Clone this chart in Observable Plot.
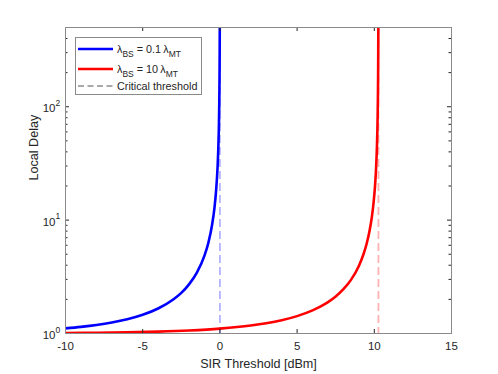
<!DOCTYPE html>
<html><head><meta charset="utf-8">
<script src="https://cdn.jsdelivr.net/npm/d3@7"></script>
<script src="https://cdn.jsdelivr.net/npm/@observablehq/plot@0.6"></script>
<style>
body{margin:0;background:#fff;}
#wrap{position:relative;width:498px;height:374px;}
</style></head><body><div id="wrap"></div>
<script>
// Blue: lambda_BS = 0.1 lambda_MT
const blueX = [-10, -9, -8, -7, -6, -5, -4, -3, -2.5, -2, -1.5, -1, -0.75, -0.5, -0.35, -0.25, -0.15, -0.1, -0.06, -0.04, -0.025, -0.015, -0.009, -0.0072];
const blueY = [1.11, 1.144, 1.188, 1.249, 1.335, 1.462, 1.662, 2.005, 2.28, 2.71, 3.42, 4.86, 6.29, 9.2, 12.9, 17.9, 29.4, 43.9, 72.9, 109, 174, 290, 483, 603];
// Red: lambda_BS = 10 lambda_MT
const redX = [-10, -8, -6, -4, -2, 0, 2, 3, 4, 5, 6, 6.5, 7, 7.5, 8, 8.5, 9, 9.3, 9.5, 9.7, 9.85, 9.95, 10.05, 10.12, 10.17, 10.2, 10.22, 10.235, 10.245, 10.255, 10.26, 10.264];
const redY = [1.0095, 1.0151, 1.0242, 1.0389, 1.063, 1.1037, 1.1751, 1.2308, 1.309, 1.4229, 1.5977, 1.7236, 1.8904, 2.1209, 2.457, 2.9877, 3.9448, 4.9975, 6.158, 8.137, 10.86, 14.1, 20.28, 29.5, 44.1, 62.6, 87.9, 125.8, 178, 300, 452, 758];
const criticalBlue = [0];
const criticalRed = [10.27];
const xTicks = [-10, -5, 0, 5, 10, 15];
const yTicks = [1, 10, 100];
const yTickExp = ["0", "1", "2"];
const yMinor = [2, 3, 4, 5, 6, 7, 8, 9, 20, 30, 40, 50, 60, 70, 80, 90, 200, 300, 400];
const xLabel = "SIR Threshold [dBm]";
const yLabel = "Local Delay";
const legendItems = [
  {pre: "λ", sub1: "BS", mid: " = 0.1\u2009λ", sub2: "MT"},
  {pre: "λ", sub1: "BS", mid: " = 10\u2009λ", sub2: "MT"},
  {pre: "Critical threshold"}
];

const W = 498, H = 374, mL = 65, mR = 47, mT = 27, mB = 41;
const iw = W - mL - mR, ih = H - mT - mB;
const txt = "#262626";
const frameColor = "#8a8a8a";
const font = "'Liberation Sans', Arial, Helvetica, sans-serif";

const blue = blueX.map((x, i) => ({x, y: blueY[i]}));
const red = redX.map((x, i) => ({x, y: redY[i]}));

const chart = Plot.plot({
  width: W, height: H,
  marginLeft: mL, marginRight: mR, marginTop: mT, marginBottom: mB,
  style: {fontFamily: font, fontSize: "11.5px", color: txt, background: "white"},
  x: {domain: [-10, 15], axis: null},
  y: {type: "log", domain: [1, 500], axis: null},
  marks: [
    Plot.ruleX(criticalBlue, {x: d => d, stroke: "#b3b3ff", strokeWidth: 1.8, strokeDasharray: "8,4"}),
    Plot.ruleX(criticalRed, {x: d => d, stroke: "#ffb3b3", strokeWidth: 1.8, strokeDasharray: "8,4"}),
    Plot.line(blue, {x: "x", y: "y", stroke: "#0000ff", strokeWidth: 2.6, curve: "monotone-x", clip: true}),
    Plot.line(red, {x: "x", y: "y", stroke: "#ff0000", strokeWidth: 2.6, curve: "monotone-x", clip: true}),
    // ticks (inward)
    Plot.ruleX(xTicks, {x: d => d, insetTop: ih - 4, stroke: txt}),
    Plot.ruleX(xTicks, {x: d => d, insetBottom: ih - 4, stroke: txt}),
    Plot.ruleY(yTicks, {y: d => d, insetRight: iw - 4, stroke: txt}),
    Plot.ruleY(yTicks, {y: d => d, insetLeft: iw - 4, stroke: txt}),
    Plot.ruleY(yMinor, {y: d => d, insetRight: iw - 2.5, stroke: txt}),
    Plot.ruleY(yMinor, {y: d => d, insetLeft: iw - 2.5, stroke: txt}),
    Plot.frame({stroke: frameColor}),
    // tick labels
    Plot.text(xTicks, {x: d => d, frameAnchor: "bottom", dy: 13, text: d => String(d), lineAnchor: "middle", fill: txt}),
    Plot.text(yTicks, {y: d => d, frameAnchor: "left", dx: -10, dy: 2, text: () => "10", textAnchor: "end", lineAnchor: "middle", fill: txt}),
    Plot.text(yTicks, {y: d => d, frameAnchor: "left", dx: -10, dy: -3.5, text: (d, i) => yTickExp[i], textAnchor: "start", lineAnchor: "middle", fontSize: 8.5, fill: txt}),
    // axis labels
    Plot.text([xLabel], {frameAnchor: "bottom", dy: 30, text: d => d, lineAnchor: "middle", fontSize: 12.6, fill: txt}),
    Plot.text([yLabel], {frameAnchor: "left", dx: -32, rotate: -90, text: d => d, lineAnchor: "middle", fontSize: 12.6, fill: txt})
  ]
});

// legend
const svg = d3.select(chart);
const lg = svg.append("g").attr("font-family", font).attr("font-size", 10.8).attr("fill", txt).attr("text-anchor", "start");
lg.append("rect").attr("x", 75.5).attr("y", 37.5).attr("width", 126).attr("height", 57)
  .attr("fill", "white").attr("stroke", frameColor);
const rowsY = [49, 69, 86];
const swatch = [
  {stroke: "#0000ff", w: 2.6, dash: null},
  {stroke: "#ff0000", w: 2.6, dash: null},
  {stroke: "#555", w: 1, dash: "6,3.5"}
];
legendItems.forEach((it, i) => {
  const y = rowsY[i];
  lg.append("line").attr("x1", 78).attr("x2", 113).attr("y1", y).attr("y2", y)
    .attr("stroke", swatch[i].stroke).attr("stroke-width", swatch[i].w)
    .attr("stroke-dasharray", swatch[i].dash);
  const t = lg.append("text").attr("x", 117).attr("y", y + 4).attr("text-anchor", "start");
  t.append("tspan").text(it.pre);
  if (it.sub1) {
    t.append("tspan").attr("font-size", 8.5).attr("dy", 3.5).text(it.sub1);
    t.append("tspan").attr("dy", -3.5).text(it.mid);
    t.append("tspan").attr("font-size", 8.5).attr("dy", 3.5).text(it.sub2);
  }
});

document.getElementById("wrap").append(chart);
</script></body></html>
